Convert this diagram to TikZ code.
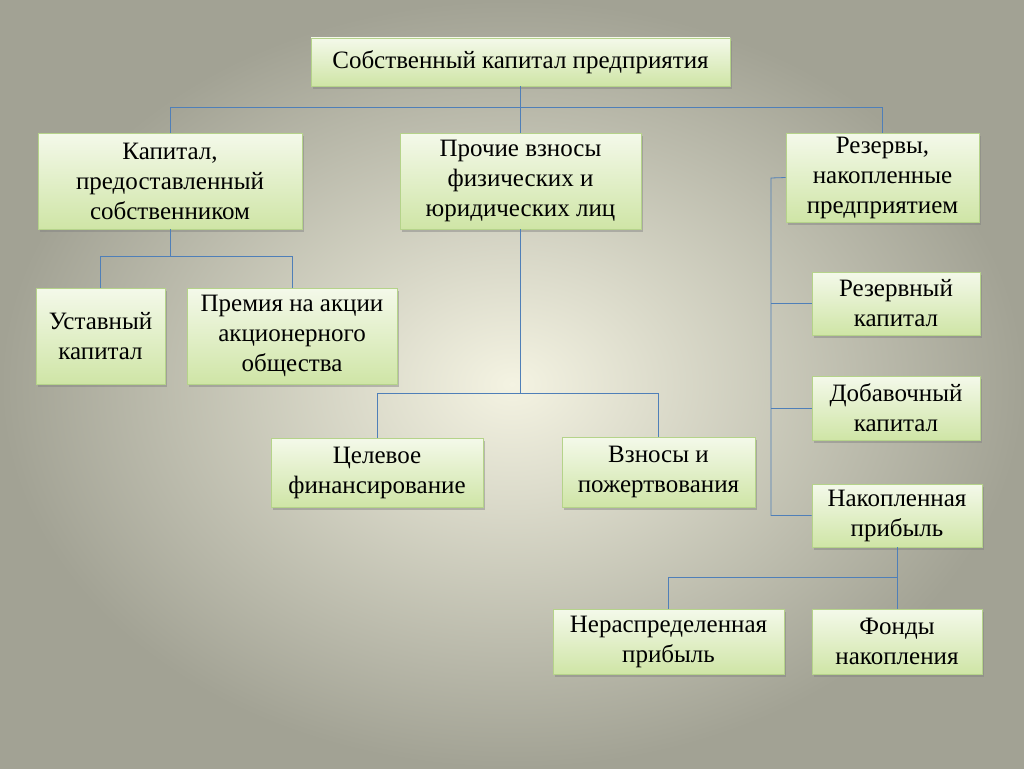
\documentclass[tikz,border=0pt]{standalone}
\usepackage{fontspec}
\setmainfont{Liberation Serif}
\usetikzlibrary{shadows}
\definecolor{bgin}{HTML}{F4F3E2}
\definecolor{bgout}{HTML}{A2A294}
\definecolor{boxtop}{HTML}{F4F9EA}
\definecolor{boxbot}{HTML}{CFE5A6}
\definecolor{boxline}{HTML}{B5D38A}
\definecolor{wire}{HTML}{4F7FB8}
\tikzset{
  box/.style={draw=boxline, line width=0.8pt, top color=boxtop, bottom color=boxbot,
    align=center, inner sep=2pt, font=\fontsize{25}{30}\selectfont,
    drop shadow={shadow xshift=2pt, shadow yshift=-3pt, opacity=0.45}},
  wire/.style={draw=wire, line width=0.8pt}
}
\begin{document}
\begin{tikzpicture}[x=1pt,y=-1pt]
  \shade[inner color=bgin, outer color=bgout] (0,0) rectangle (1024,768);
  \useasboundingbox (0,0) rectangle (1024,768);

  \node[box, minimum width=419pt, minimum height=48pt] (top) at (520.5,62) {Собственный капитал предприятия};
  \node[box, minimum width=264pt, minimum height=96pt] (own) at (170,181) {Капитал,\\предоставленный\\собственником};
  \node[box, minimum width=241pt, minimum height=96pt] (other) at (520.5,181) {Прочие взносы\\физических и\\юридических лиц};
  \node[box, minimum width=193pt, minimum height=89pt] (res) at (882.5,177.5) {Резервы,\\накопленные\\предприятием};

  \node[box, minimum width=129pt, minimum height=96pt] (ust) at (100.5,336) {Уставный\\капитал};
  \node[box, minimum width=210pt, minimum height=96pt] (prem) at (292,336) {Премия на акции\\акционерного\\общества};

  \node[box, minimum width=212pt, minimum height=69pt] (target) at (377,472.5) {Целевое\\финансирование};
  \node[box, minimum width=193pt, minimum height=70pt] (don) at (658.5,472) {Взносы и\\пожертвования};

  \node[box, minimum width=168pt, minimum height=63pt] (rcap) at (896,303.5) {Резервный\\капитал};
  \node[box, minimum width=168pt, minimum height=64pt] (acap) at (896,408) {Добавочный\\капитал};
  \node[box, minimum width=170pt, minimum height=63pt] (acc) at (897,515.5) {Накопленная\\прибыль};

  \node[box, minimum width=231pt, minimum height=65pt] (undist) at (668.5,641.5) {Нераспределенная\\прибыль};
  \node[box, minimum width=170pt, minimum height=65pt] (fund) at (897,641.5) {Фонды\\накопления};

  % top level
  \draw[wire] (top.south) -- ++(0,21) -| (own.north);
  \draw[wire] (top.south) -- ++(0,21) -| (res.north);
  \draw[wire] (top.south) -- (other.north);
  % owner capital
  \draw[wire] (own.south) -- ++(0,27) -| (ust.north);
  \draw[wire] (own.south) -- ++(0,27) -| (prem.north);
  % other contributions
  \draw[wire] (other.south) -- ++(0,164) -| (target.north);
  \draw[wire] (other.south) -- ++(0,164) -| (don.north);
  % reserves
  \coordinate (rtop) at (771,178);
  \coordinate (rbot) at (771,515.5);
  \draw[wire] (res.west) -- (rtop) -- (rbot) -- (acc.west);
  \draw[wire] (rcap.west) -- (771,303.5);
  \draw[wire] (acap.west) -- (771,408);
  % accumulated profit
  \draw[wire] (acc.south) -- ++(0,30) -| (undist.north);
  \draw[wire] (acc.south) -- ++(0,30) -| (fund.north);
\end{tikzpicture}
\end{document}
